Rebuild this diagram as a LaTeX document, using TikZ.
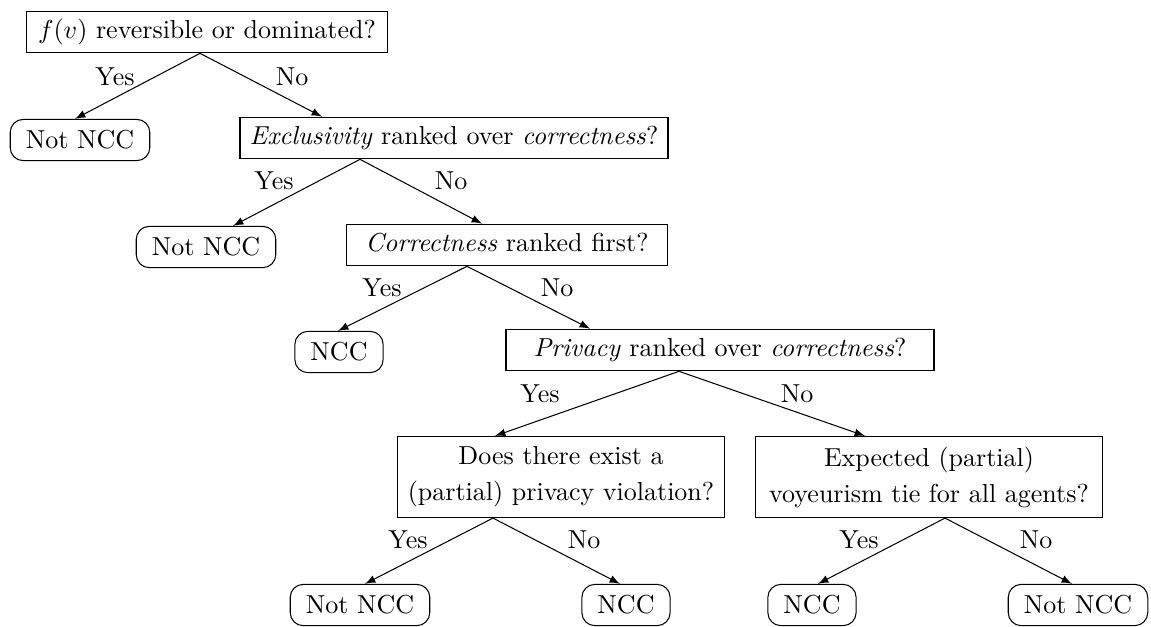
\documentclass[tikz,border=0pt]{standalone}
\usetikzlibrary{calc}
\begin{document}
\begin{tikzpicture}[x=0.3846pt,y=-0.3846pt,
  qbox/.style={draw, rectangle, inner xsep=3pt, inner ysep=3pt, line width=0.4pt, text height=7.5pt, text depth=2.5pt},
  qbox2/.style={draw, rectangle, inner xsep=3pt, inner ysep=3pt, line width=0.4pt, align=center, minimum height=31.2pt},
  leaf/.style={draw, rounded corners=5pt, inner xsep=6pt, inner ysep=4.3pt, line width=0.4pt},
  lab/.style={inner sep=0pt},
  arr/.style={-latex, line width=0.4pt}]
\useasboundingbox (0,0) rectangle (1151,626);
% decision nodes
\node[qbox, minimum width=138.5pt] (root) at (207,32) {$f(v)$ reversible or dominated?};
\node[qbox, minimum width=164.6pt] (ex) at (454,138) {\emph{Exclusivity} ranked over \emph{correctness}?};
\node[qbox, minimum width=123.1pt] (cor) at (507,245) {\emph{Correctness} ranked first?};
\node[qbox, minimum width=164.6pt] (priv) at (720,350) {\emph{Privacy} ranked over \emph{correctness}?};
\node[qbox2, minimum width=126.1pt] (does) at (561,477) {Does there exist a\\[1.8pt] (partial) privacy violation?};
\node[qbox2, minimum width=133.8pt] (exp) at (929,477) {Expected (partial)\\[1.8pt] voyeurism tie for all agents?};
% leaves
\node[leaf] (n1) at (80,140) {Not NCC};
\node[leaf] (n2) at (206,247) {Not NCC};
\node[leaf] (n3) at (339,352) {NCC};
\node[leaf] (n4) at (360,605) {Not NCC};
\node[leaf] (n5) at (626,605) {NCC};
\node[leaf] (n6) at (812,605) {NCC};
\node[leaf] (n7) at (1078,605) {Not NCC};
% edges
\draw[arr] ($(root.south)+(-7,0)$) -- ($(n1.north)+(-5,0)$);
\draw[arr] ($(root.south)+(-7,0)$) -- ($(ex.north)+(-132,0)$);
\draw[arr] ($(ex.south)+(-94,0)$) -- ($(n2.north)+(27,0)$);
\draw[arr] ($(ex.south)+(-94,0)$) -- ($(cor.north)+(-25,0)$);
\draw[arr] ($(cor.south)+(-40,0)$) -- ($(n3.north)+(-1,0)$);
\draw[arr] ($(cor.south)+(-40,0)$) -- ($(priv.north)+(-130,0)$);
\draw[arr] ($(priv.south)+(-41,0)$) -- ($(does.north)+(-66,0)$);
\draw[arr] ($(priv.south)+(-41,0)$) -- ($(exp.north)+(-64,0)$);
\draw[arr] ($(does.south)+(-68,0)$) -- ($(n4.north)+(5,0)$);
\draw[arr] ($(does.south)+(-68,0)$) -- ($(n5.north)+(-6,0)$);
\draw[arr] ($(exp.south)+(16,0)$) -- ($(n6.north)+(6,0)$);
\draw[arr] ($(exp.south)+(16,0)$) -- ($(n7.north)+(-6,0)$);
% labels
\node[lab] (ry) at (115,77) {Yes};
\node[lab] (rn) at (292,77) {No};
\node[lab] (ey) at (274,181) {Yes};
\node[lab] (en) at (451,181) {No};
\node[lab] (cy) at (382,288) {Yes};
\node[lab] (cn) at (557,288) {No};
\node[lab] (py) at (540,394) {Yes};
\node[lab] (pn) at (797,394) {No};
\node[lab] (dy) at (408,540) {Yes};
\node[lab] (dn) at (584,540) {No};
\node[lab] (xy) at (859,540) {Yes};
\node[lab] (xn) at (1036,540) {No};
\end{tikzpicture}
\end{document}
